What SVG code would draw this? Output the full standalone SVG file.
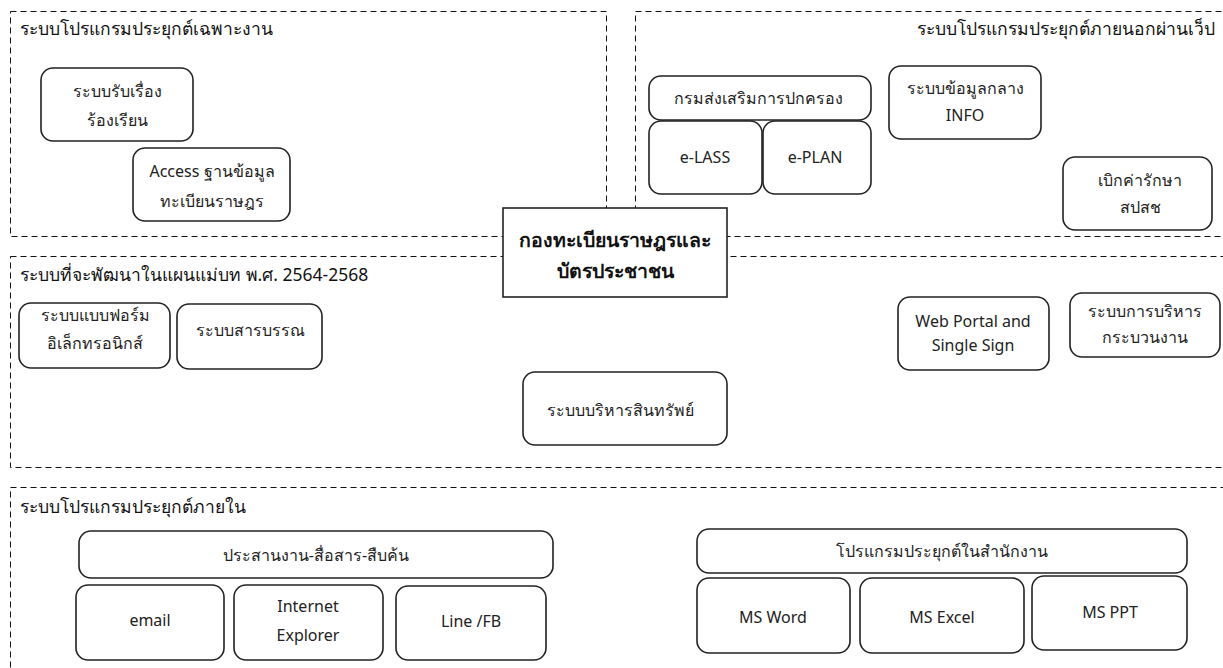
<svg xmlns="http://www.w3.org/2000/svg" width="1223" height="668" viewBox="0 0 1223 668">
  <style>
    .zone { fill: none; stroke: #111; stroke-width: 1; stroke-dasharray: 6 4; }
    .box { fill: #fff; stroke: #222; stroke-width: 1.6; }
    .hub { fill: #fff; stroke: #222; stroke-width: 1.6; }
    text { font-family: "Noto Sans", "DejaVu Sans", sans-serif; fill: #222; }
    .lbl { font-size: 16px; text-anchor: middle; }
    .ttl { font-size: 17.5px; fill: #111; }
    .hubt { font-size: 19.5px; font-weight: bold; text-anchor: middle; fill: #111; }
  </style>

  <rect width="1223" height="668" fill="#fff"/>

  <!-- dashed zone outlines -->
  <g id="zones">
    <rect class="zone" x="10.5" y="11.5" width="596" height="225"/>
    <rect class="zone" x="635.5" y="11.5" width="600" height="225"/>
    <rect class="zone" x="10.5" y="256.5" width="1225" height="211"/>
    <rect class="zone" x="10.5" y="487.5" width="1225" height="200"/>
    <text class="ttl" x="20" y="35">ระบบโปรแกรมประยุกต์เฉพาะงาน</text>
    <text class="ttl" x="1215" y="35" text-anchor="end">ระบบโปรแกรมประยุกต์ภายนอกผ่านเว็ป</text>
    <text class="ttl" x="20" y="281">ระบบที่จะพัฒนาในแผนแม่บท พ.ศ. 2564-2568</text>
    <text class="ttl" x="20" y="513">ระบบโปรแกรมประยุกต์ภายใน</text>
  </g>

  <g id="connectors"/>

  <!-- application-specific systems -->
  <g id="n-complaint">
    <rect class="box" x="41" y="68" width="152" height="73" rx="12"/>
    <text class="lbl" x="117" y="97">ระบบรับเรื่อง</text>
    <text class="lbl" x="117" y="126">ร้องเรียน</text>
  </g>
  <g id="n-access">
    <rect class="box" x="133" y="148" width="157" height="73" rx="12"/>
    <text class="lbl" x="212" y="177">Access ฐานข้อมูล</text>
    <text class="lbl" x="212" y="207">ทะเบียนราษฎร</text>
  </g>

  <!-- external web systems -->
  <g id="n-dla">
    <rect class="box" x="649" y="76" width="222" height="44" rx="12"/>
    <text class="lbl" x="758" y="104">กรมส่งเสริมการปกครอง</text>
  </g>
  <g id="n-elass">
    <rect class="box" x="649" y="121" width="113" height="73" rx="12"/>
    <text class="lbl" x="705" y="163">e-LASS</text>
  </g>
  <g id="n-eplan">
    <rect class="box" x="763" y="121" width="108" height="73" rx="12"/>
    <text class="lbl" x="815" y="163">e-PLAN</text>
  </g>
  <g id="n-info">
    <rect class="box" x="889" y="66" width="152" height="73" rx="12"/>
    <text class="lbl" x="965" y="94">ระบบข้อมูลกลาง</text>
    <text class="lbl" x="965" y="121">INFO</text>
  </g>
  <g id="n-nhso">
    <rect class="box" x="1063" y="157" width="149" height="73" rx="12"/>
    <text class="lbl" x="1140" y="186">เบิกค่ารักษา</text>
    <text class="lbl" x="1140" y="213">สปสช</text>
  </g>

  <!-- master plan systems -->
  <g id="n-eform">
    <rect class="box" x="19" y="303" width="151" height="65" rx="12"/>
    <text class="lbl" x="95" y="321">ระบบแบบฟอร์ม</text>
    <text class="lbl" x="95" y="349">อิเล็กทรอนิกส์</text>
  </g>
  <g id="n-saraban">
    <rect class="box" x="177" y="304" width="145" height="65" rx="12"/>
    <text class="lbl" x="250" y="336">ระบบสารบรรณ</text>
  </g>
  <g id="n-asset">
    <rect class="box" x="523" y="372" width="204" height="73" rx="12"/>
    <text class="lbl" x="620" y="416">ระบบบริหารสินทรัพย์</text>
  </g>
  <g id="n-portal">
    <rect class="box" x="898" y="297" width="151" height="73" rx="12"/>
    <text class="lbl" x="973" y="327">Web Portal and</text>
    <text class="lbl" x="973" y="351">Single Sign</text>
  </g>
  <g id="n-process">
    <rect class="box" x="1070" y="293" width="150" height="64" rx="12"/>
    <text class="lbl" x="1145" y="317">ระบบการบริหาร</text>
    <text class="lbl" x="1145" y="343">กระบวนงาน</text>
  </g>

  <!-- in-house systems -->
  <g id="n-comm">
    <rect class="box" x="79" y="531" width="474" height="47" rx="12"/>
    <text class="lbl" x="316" y="561">ประสานงาน-สื่อสาร-สืบค้น</text>
  </g>
  <g id="n-email">
    <rect class="box" x="76" y="585" width="148" height="75" rx="12"/>
    <text class="lbl" x="150" y="626">email</text>
  </g>
  <g id="n-ie">
    <rect class="box" x="234" y="585" width="149" height="75" rx="12"/>
    <text class="lbl" x="308" y="612">Internet</text>
    <text class="lbl" x="308" y="641">Explorer</text>
  </g>
  <g id="n-line">
    <rect class="box" x="396" y="586" width="150" height="74" rx="12"/>
    <text class="lbl" x="471" y="627">Line /FB</text>
  </g>
  <g id="n-office">
    <rect class="box" x="697" y="529" width="490" height="44" rx="12"/>
    <text class="lbl" x="942" y="557">โปรแกรมประยุกต์ในสำนักงาน</text>
  </g>
  <g id="n-word">
    <rect class="box" x="697" y="578" width="153" height="75" rx="12"/>
    <text class="lbl" x="773" y="623">MS Word</text>
  </g>
  <g id="n-excel">
    <rect class="box" x="860" y="578" width="164" height="75" rx="12"/>
    <text class="lbl" x="942" y="623">MS Excel</text>
  </g>
  <g id="n-ppt">
    <rect class="box" x="1032" y="576" width="155" height="74" rx="12"/>
    <text class="lbl" x="1110" y="618">MS PPT</text>
  </g>

  <!-- central office -->
  <g id="n-hub">
    <rect class="hub" x="503" y="208" width="224" height="89"/>
    <text class="hubt" x="615" y="247">กองทะเบียนราษฎรและ</text>
    <text class="hubt" x="615" y="278">บัตรประชาชน</text>
  </g>
</svg>
